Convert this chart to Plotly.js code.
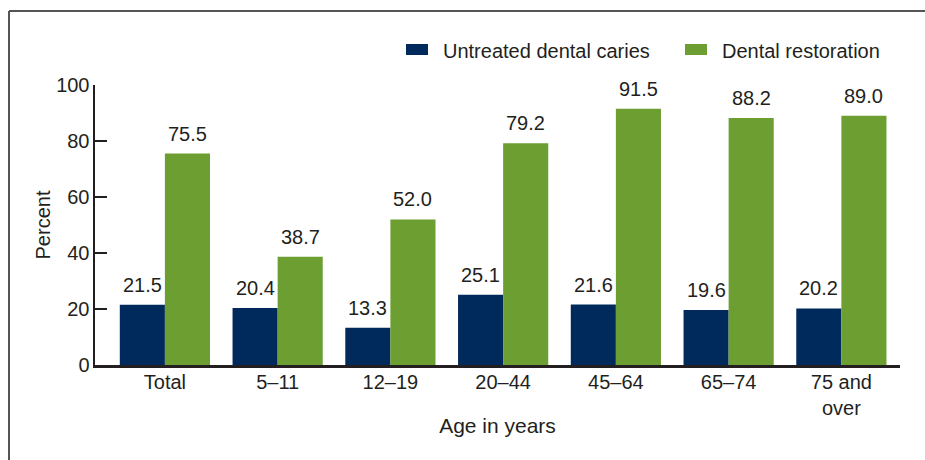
<!DOCTYPE html>
<html>
<head>
<meta charset="utf-8">
<script src="https://cdn.plot.ly/plotly-3.0.1.min.js"></script>
<style>html,body{margin:0;padding:0;background:#fff;}#chart{width:925px;height:460px;}</style>
</head>
<body>
<div id="chart"></div>
<script>
var categories = ["Total", "5–11", "12–19", "20–44", "45–64", "65–74", "75 and<br>over"];
var seriesNames = ["Untreated dental caries", "Dental restoration"];
var untreated = [21.5, 20.4, 13.3, 25.1, 21.6, 19.6, 20.2];
var restoration = [75.5, 38.7, 52.0, 79.2, 91.5, 88.2, 89.0];
var yTicks = [0, 20, 40, 60, 80, 100];

var navy = "#002a5c";
var green = "#6c9e31";
var textColor = "#231f20";
var font = "Arial, 'Liberation Sans', sans-serif";
var fs = 20;

var L = 95, R = 900, T = 85, B = 365;
function px(x) { return (x - L) / (R - L); }
function py(y) { return (B - y) / (B - T); }

var traces = [
  {type: "bar", name: seriesNames[0], x: categories, y: untreated, marker: {color: navy}, showlegend: false, hoverinfo: "x+y"},
  {type: "bar", name: seriesNames[1], x: categories, y: restoration, marker: {color: green}, showlegend: false, hoverinfo: "x+y"}
];

var annotations = [];
[untreated, restoration].forEach(function (vals, s) {
  vals.forEach(function (v, i) {
    annotations.push({
      x: categories[i], y: v, xref: "x", yref: "y",
      text: v.toFixed(1), showarrow: false,
      xshift: s === 0 ? -22.5 : 22.5, yshift: 7, yanchor: "bottom",
      font: {family: font, size: fs, color: textColor}
    });
  });
});
// legend labels
annotations.push({xref: "paper", yref: "paper", x: px(441), y: py(51), xanchor: "left", yanchor: "middle",
  text: seriesNames[0], showarrow: false, font: {family: font, size: fs, color: textColor}});
annotations.push({xref: "paper", yref: "paper", x: px(720), y: py(51), xanchor: "left", yanchor: "middle",
  text: seriesNames[1], showarrow: false, font: {family: font, size: fs, color: textColor}});

var shapes = [
  {type: "rect", xref: "paper", yref: "paper", x0: px(406), x1: px(428), y0: py(55), y1: py(44), fillcolor: navy, line: {width: 0}},
  {type: "rect", xref: "paper", yref: "paper", x0: px(685), x1: px(707), y0: py(55), y1: py(44), fillcolor: green, line: {width: 0}},
  {type: "line", xref: "paper", yref: "paper", x0: px(9), x1: px(9), y0: py(11), y1: py(470), line: {color: "#555555", width: 2}},
  {type: "line", xref: "paper", yref: "paper", x0: px(9), x1: px(935), y0: py(11), y1: py(11), line: {color: "#555555", width: 2}}
];

var layout = {
  width: 925, height: 460,
  margin: {l: L, r: 925 - R, t: T, b: 460 - B, pad: 0},
  paper_bgcolor: "#ffffff", plot_bgcolor: "#ffffff",
  font: {family: font, size: fs, color: textColor},
  barmode: "group", bargap: 0.2, bargroupgap: 0,
  xaxis: {
    type: "category", range: [-0.62, 6.52],
    showline: true, linecolor: textColor, linewidth: 2.5,
    ticks: "", showgrid: false, zeroline: false,
    ticklabelstandoff: -3,
    tickfont: {family: font, size: fs, color: textColor},
    title: {text: "Age in years", font: {family: font, size: 21, color: textColor}, standoff: 1}
  },
  yaxis: {
    range: [0, 100], tickvals: yTicks, ticktext: yTicks.map(String),
    showline: true, linecolor: textColor, linewidth: 2.5,
    ticks: "inside", ticklen: 12, tickwidth: 2.5, tickcolor: textColor,
    showgrid: false, zeroline: false,
    ticklabelstandoff: -1,
    tickfont: {family: font, size: fs, color: textColor},
    title: {text: "Percent", font: {family: font, size: fs, color: textColor}, standoff: 0}
  },
  showlegend: false,
  annotations: annotations,
  shapes: shapes
};

Plotly.newPlot("chart", traces, layout, {displayModeBar: false, staticPlot: true});
</script>
</body>
</html>
